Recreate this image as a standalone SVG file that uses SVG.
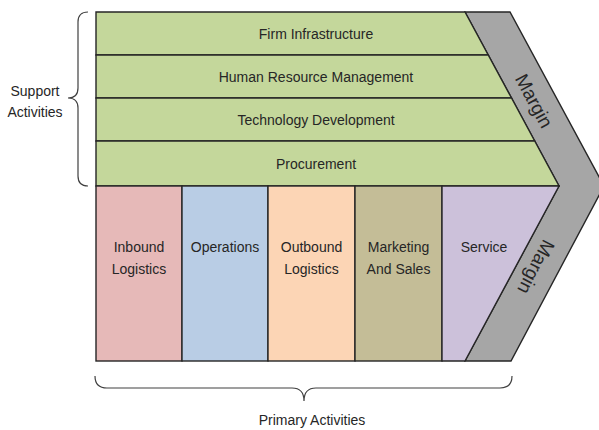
<svg xmlns="http://www.w3.org/2000/svg" width="599" height="430" viewBox="0 0 599 430">
<style>
.s{stroke:#262626;stroke-width:1.4;stroke-linejoin:miter}
.t{font-family:"Liberation Sans",Arial,sans-serif;font-size:14px;fill:#262626;text-anchor:middle}
.m{font-family:"Liberation Sans",Arial,sans-serif;font-size:19px;fill:#262626;text-anchor:middle;dominant-baseline:central}
.b{fill:none;stroke:#404040;stroke-width:1.2}
</style>
<rect width="599" height="430" fill="#ffffff"/>
<g id="margin">
<polygon class="s" fill="#A6A6A6" points="465,12 510,12 604,186 511,361 465,361 559,186"/>
<text class="m" transform="translate(534,101) rotate(61.6)">Margin</text>
<text class="m" transform="translate(536,267) rotate(117.5)">Margin</text>
</g>
<g id="firm-infrastructure">
<polygon class="s" fill="#C4D79B" points="96,12 465,12 488.2,55 96,55"/>
<text class="t" x="316" y="38.5">Firm Infrastructure</text>
</g>
<g id="human-resource-management">
<polygon class="s" fill="#C4D79B" points="96,55 488.2,55 511.5,98 96,98"/>
<text class="t" x="316" y="81.5">Human Resource Management</text>
</g>
<g id="technology-development">
<polygon class="s" fill="#C4D79B" points="96,98 511.5,98 534.7,141 96,141"/>
<text class="t" x="316" y="124.5">Technology Development</text>
</g>
<g id="procurement">
<polygon class="s" fill="#C4D79B" points="96,141 534.7,141 559,186 96,186"/>
<text class="t" x="316" y="168.5">Procurement</text>
</g>
<g id="inbound-logistics">
<rect class="s" fill="#E6B9B8" x="96" y="186" width="86" height="175"/>
<text class="t" x="139" y="252">Inbound</text>
<text class="t" x="139" y="274">Logistics</text>
</g>
<g id="operations">
<rect class="s" fill="#B9CDE5" x="182" y="186" width="86" height="175"/>
<text class="t" x="225" y="252">Operations</text>
</g>
<g id="outbound-logistics">
<rect class="s" fill="#FCD5B5" x="268" y="186" width="87" height="175"/>
<text class="t" x="311.5" y="252">Outbound</text>
<text class="t" x="311.5" y="274">Logistics</text>
</g>
<g id="marketing-and-sales">
<rect class="s" fill="#C4BD97" x="355" y="186" width="87" height="175"/>
<text class="t" x="398.5" y="252">Marketing</text>
<text class="t" x="398.5" y="274">And Sales</text>
</g>
<g id="service">
<polygon class="s" fill="#CCC1DA" points="442,186 559,186 465,361 442,361"/>
<text class="t" x="484" y="252">Service</text>
</g>
<g id="connectors">
<path class="b" d="M88,12 Q78,12 78,22 L78,88 Q78,98 68,98 Q78,98 78,108 L78,176 Q78,186 88,186"/>
<path class="b" d="M95,376 Q95,388 107,388 L292,388 Q304,388 304,401 Q304,388 316,388 L500,388 Q512,388 512,376"/>
</g>
<g id="labels">
<text class="t" x="35" y="96">Support</text>
<text class="t" x="35" y="117">Activities</text>
<text class="t" x="312" y="425">Primary Activities</text>
</g>
</svg>
